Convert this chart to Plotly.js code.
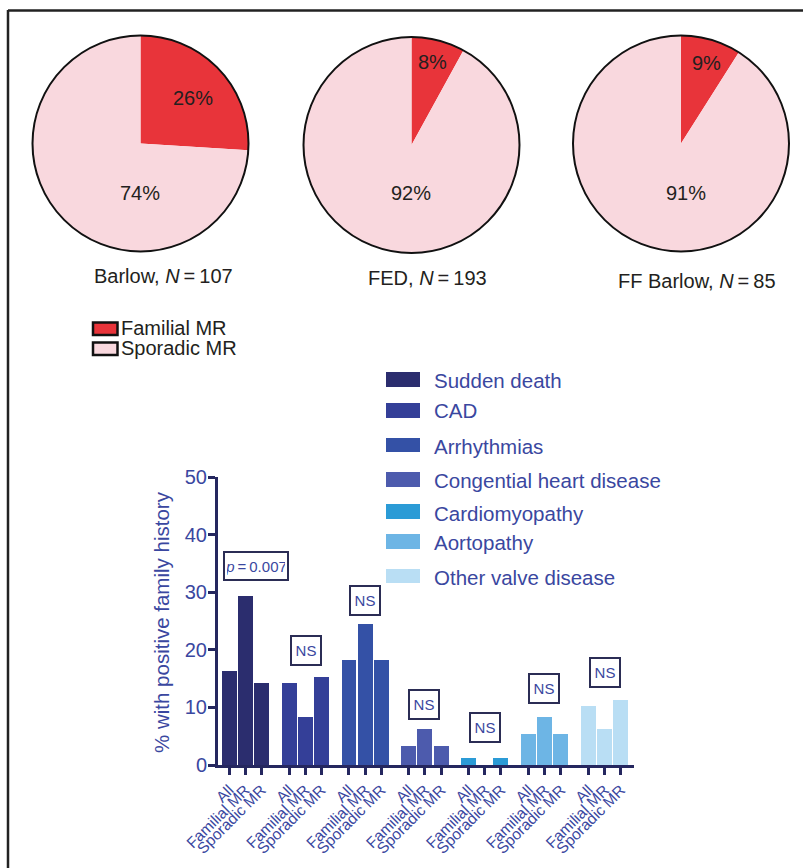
<!DOCTYPE html>
<html>
<head>
<meta charset="utf-8">
<script src="https://cdn.plot.ly/plotly-3.0.1.min.js"></script>
<style>html,body{margin:0;padding:0;background:#fff;}#chart{width:803px;height:868px;}</style>
</head>
<body>
<div id="chart"></div>
<script>
// ---------- data ----------
const pieCohorts = ['Barlow', 'FED', 'FF Barlow'];
const pieN = [107, 193, 85];
const pieLabels = ['Familial MR', 'Sporadic MR'];
const pieFamilial = [26, 8, 9];
const pieSporadic = [74, 92, 91];

const diseases = ['Sudden death', 'CAD', 'Arrhythmias', 'Congential heart disease',
                  'Cardiomyopathy', 'Aortopathy', 'Other valve disease'];
const subgroups = ['All', 'Familial MR', 'Sporadic MR'];
const allValues      = [16.3, 14.3, 18.3, 3.3, 1.2, 5.3, 10.3];
const familialValues = [29.3,  8.3, 24.4, 6.3, 0.0, 8.3,  6.3];
const sporadicValues = [14.3, 15.3, 18.3, 3.3, 1.2, 5.3, 11.3];
const pValues = ['<i>p</i>\u2009=\u20090.007', 'NS', 'NS', 'NS', 'NS', 'NS', 'NS'];
const yTicks = [0, 10, 20, 30, 40, 50];

// ---------- styles ----------
const W = 803, H = 868;
const px = x => x / W;
const py = y => 1 - y / H;
const FONT = 'Liberation Sans, Arial, Helvetica, sans-serif';
const BLUE_TXT = '#3a47a0';
const AXIS = '#25275f';
const pieColors = ['#e8343a', '#f9d8de'];
const diseaseColors = ['#2b2d6e', '#343f98', '#3451a6', '#4d5bad', '#2b9bd6', '#6db5e5', '#b9def4'];

const pieCenters = [[140.5, 143.5], [411.5, 145], [681, 143.5]];
const pieR = 108;
const famTextPos = [[193, 98], [432, 62], [706, 63]];
const sporTextPos = [[140, 193], [411, 193], [686, 193]];
const cohortTextPos = [[163, 276], [427, 278], [697, 281]];

const GP = 3.72; // group pitch in bar units
const traces = [];
const annotations = [];
const shapes = [];
const ann = o => annotations.push(Object.assign({xref: 'paper', yref: 'paper', showarrow: false,
  xanchor: 'center', yanchor: 'middle'}, o));

// pies
pieCohorts.forEach((c, i) => {
  const [cx, cy] = pieCenters[i];
  traces.push({
    type: 'pie',
    labels: pieLabels,
    values: [pieFamilial[i], pieSporadic[i]],
    marker: {colors: pieColors, line: {width: 0}},
    sort: false,
    direction: 'clockwise',
    rotation: 0,
    textinfo: 'none',
    hoverinfo: 'label+percent',
    showlegend: false,
    domain: {x: [px(cx - pieR), px(cx + pieR)], y: [py(cy + pieR), py(cy - pieR)]}
  });
  shapes.push({type: 'circle', xref: 'paper', yref: 'paper',
    x0: px(cx - pieR), x1: px(cx + pieR), y0: py(cy + pieR), y1: py(cy - pieR),
    line: {color: '#111', width: 2}});
  ann({x: px(famTextPos[i][0]), y: py(famTextPos[i][1]),
    text: pieFamilial[i] + '%', font: {family: FONT, size: 20, color: '#231f20'}});
  ann({x: px(sporTextPos[i][0]), y: py(sporTextPos[i][1]),
    text: pieSporadic[i] + '%', font: {family: FONT, size: 20, color: '#231f20'}});
  ann({x: px(cohortTextPos[i][0]), y: py(cohortTextPos[i][1]),
    text: c + ', <i>N</i>\u2009=\u2009' + pieN[i], font: {family: FONT, size: 20, color: '#231f20'}});
});

// pie legend
const pieLegY = [[322.5, 335], [342.5, 355]];
pieLabels.forEach((l, i) => {
  shapes.push({type: 'rect', xref: 'paper', yref: 'paper',
    x0: px(93), x1: px(117.5), y0: py(pieLegY[i][1]), y1: py(pieLegY[i][0]),
    fillcolor: pieColors[i], line: {color: '#111', width: 2.5}});
  ann({x: px(119), y: py((pieLegY[i][0] + pieLegY[i][1]) / 2 - 0.5),
    xanchor: 'left', text: l, font: {family: FONT, size: 20, color: '#231f20'}});
});

// bars
const tickvals = [], ticktext = [];
diseases.forEach((d, g) => {
  const xs = [0, 1, 2].map(b => g * GP + b);
  xs.forEach((x, b) => { tickvals.push(x); ticktext.push(subgroups[b]); });
  traces.push({
    type: 'bar', name: d,
    x: xs, y: [allValues[g], familialValues[g], sporadicValues[g]],
    width: 0.93,
    marker: {color: diseaseColors[g], line: {width: 0}},
    xaxis: 'x', yaxis: 'y', showlegend: false,
    hovertemplate: d + '<br>%{y}<extra></extra>'
  });
});

// significance boxes (pixel centers)
const pBoxPos = [[255.5, 566], [306, 650.5], [364.5, 600.5], [423.5, 704.5], [484.5, 727], [543.5, 688.5], [604.5, 672]];
pValues.forEach((t, g) => {
  const isP = g === 0;
  ann({x: px(pBoxPos[g][0]), y: py(pBoxPos[g][1]),
    text: t, bgcolor: '#fff', bordercolor: '#2b2d55', borderwidth: 2, borderpad: 2,
    width: isP ? 58 : 24, height: isP ? 22 : 23,
    font: {family: FONT, size: 15, color: BLUE_TXT}});
});

// disease legend
const legBoxY = [[372, 387], [403, 418], [438, 452], [472, 487], [504, 519], [534, 549], [569, 583]];
const legTextY = [381, 410, 446, 480, 513, 542, 577];
diseases.forEach((d, g) => {
  shapes.push({type: 'rect', xref: 'paper', yref: 'paper',
    x0: px(386), x1: px(420), y0: py(legBoxY[g][1]), y1: py(legBoxY[g][0]),
    fillcolor: diseaseColors[g], line: {width: 0}});
  ann({x: px(432), y: py(legTextY[g]), xanchor: 'left', text: d,
    font: {family: FONT, size: 20.5, color: BLUE_TXT}});
});

// y-axis title
ann({x: px(161), y: py(622), textangle: -90,
  text: '% with positive family history',
  font: {family: FONT, size: 20.5, color: BLUE_TXT}});

// outer frame
shapes.push({type: 'line', xref: 'paper', yref: 'paper', x0: px(8), x1: px(820), y0: py(10.5), y1: py(10.5), line: {color: '#222', width: 2.5}});
shapes.push({type: 'line', xref: 'paper', yref: 'paper', x0: px(8), x1: px(8), y0: py(10), y1: py(880), line: {color: '#222', width: 2.5}});

const x0px = 218, x1px = 634, ux = 16.1, c0 = 229.2;
const layout = {
  width: W, height: H,
  margin: {l: 0, r: 0, t: 0, b: 0},
  paper_bgcolor: '#fff', plot_bgcolor: 'rgba(0,0,0,0)',
  font: {family: FONT},
  showlegend: false,
  bargap: 0,
  xaxis: {
    domain: [px(x0px), px(x1px)],
    range: [(x0px - c0) / ux, (x1px - c0) / ux],
    tickmode: 'array', tickvals: tickvals, ticktext: ticktext, tickangle: -45,
    ticks: 'outside', ticklen: 7, tickwidth: 2.5, tickcolor: AXIS,
    showline: true, linecolor: AXIS, linewidth: 3,
    showgrid: false, zeroline: false, automargin: false,
    tickfont: {family: FONT, size: 15.5, color: BLUE_TXT}, fixedrange: true
  },
  yaxis: {
    domain: [py(765), py(477)],
    range: [0, 50],
    tickmode: 'array', tickvals: yTicks,
    ticks: 'outside', ticklen: 7, tickwidth: 2.5, tickcolor: AXIS,
    ticklabelstandoff: -3,
    showline: true, linecolor: AXIS, linewidth: 3,
    showgrid: false, zeroline: false, automargin: false,
    tickfont: {family: FONT, size: 20, color: BLUE_TXT}, fixedrange: true
  },
  shapes: shapes,
  annotations: annotations
};

Plotly.newPlot('chart', traces, layout, {displayModeBar: false});
</script>
</body>
</html>
